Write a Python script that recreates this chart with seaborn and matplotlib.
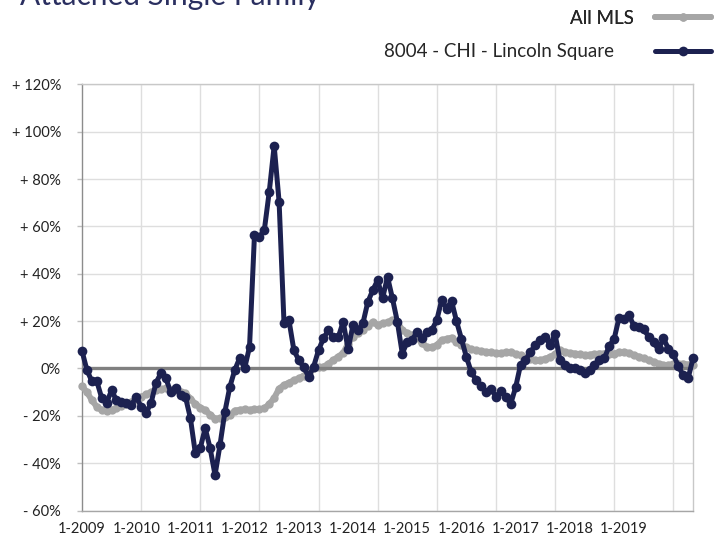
import matplotlib
matplotlib.use("Agg")
import matplotlib.pyplot as plt
import seaborn as sns
import pandas as pd
import numpy as np
from matplotlib.ticker import FixedLocator

# Monthly % change, 1-2009 onwards (one value per month)
lincoln_square = [
    7.4, -0.7, -5.4, -5.4, -12.5, -14.5, -9.2, -13.5, -14, -14.5, -15.5, -12,
    -16.2, -18.7, -14.7, -6.2, -2, -4.1, -9.9, -8.3, -11.3, -12.1, -21, -35.8,
    -33.7, -25.2, -33.7, -45, -32.4, -18.3, -7.8, -0.7, 4.4, 0, 9.1, 56.3,
    55.6, 58.4, 74.6, 94, 70.4, 19, 20.4, 7.7, 3.5, 0.5, -3.5, 0.7,
    7.7, 12.7, 16.2, 13.1, 13.1, 19.7, 8.2, 18.3, 16.2, 19, 28, 33,
    37.3, 29.6, 38.7, 29.6, 19.7, 6.3, 11.2, 12, 15.5, 12.7, 15.5, 16.2,
    20.4, 28.9, 25.3, 28.5, 20, 12.5, 4.9, -1.5, -5, -7.5, -10, -8.5,
    -12, -9.5, -12, -15, -8, 1.5, 3.5, 7, 9.8, 12, 13.4, 9.8,
    14.5, 3.5, 1.5, 0, 0, -0.7, -2.1, -0.7, 1.4, 3.5, 4.2, 9.5,
    12.5, 21.5, 21, 22.5, 18, 17.5, 16.5, 13.4, 11, 8, 12.7, 8.4,
    6, 1, -2.8, -4.2, 4.2,
]
all_mls = [
    -7.5, -10, -13.4, -16.2, -17.6, -17.9, -17.5, -16.8, -16, -15, -14.1, -13,
    -12, -11, -10, -9.2, -8.8, -8.4, -9, -9.2, -9.8, -10.5, -12.7, -15,
    -16.5, -17.6, -19.5, -21.2, -21, -20.4, -19.7, -17.8, -17.5, -17.3, -17.5, -17.3,
    -17.3, -16.9, -15, -12.5, -8.5, -7, -6, -5, -4.2, -3, -2, 0,
    0.5, 0.7, 2, 3.5, 5, 6.5, 10.5, 13.4, 15, 16.2, 18, 19.7,
    18.3, 19, 19.5, 20.4, 19.7, 16.2, 15, 14.1, 13.1, 10.6, 9.1, 9,
    9.8, 12, 12.5, 13, 11.2, 9.8, 9, 8, 7.7, 7.3, 7, 6.8,
    6.5, 6.5, 6.8, 7, 6, 5.6, 4.5, 3.8, 3.5, 3.5, 4, 4.9,
    6, 7.7, 7, 6.5, 6.3, 6, 5.6, 5.8, 6, 6.3, 6.3, 6.3,
    6.3, 6.8, 7, 6.5, 5.6, 5, 4.2, 3.5, 2.8, 2, 1.4, 1.5,
    1.8, 2, 2, 1.6, 1.4,
]
months = list(range(len(lincoln_square)))

x_labels = ["1-2009", "1-2010", "1-2011", "1-2012", "1-2013", "1-2014",
            "1-2015", "1-2016", "1-2017", "1-2018", "1-2019"]
y_ticks = [-60, -40, -20, 0, 20, 40, 60, 80, 100, 120]
y_labels = ["- 60%", "- 40%", "- 20%", "0%", "+ 20%", "+ 40%", "+ 60%",
            "+ 80%", "+ 100%", "+ 120%"]

NAVY = "#1c2150"
GRAY = "#a6a6a6"

sns.set_theme(style="white")
plt.rcParams["font.family"] = ["Lato", "DejaVu Sans"]

df = pd.DataFrame({"month": months, "Lincoln": lincoln_square, "MLS": all_mls})

fig = plt.figure(figsize=(7.16, 5.37), dpi=100)
ax = fig.add_axes([82 / 716, 26.5 / 537, 611 / 716, 426.2 / 537])

sns.lineplot(data=df, x="month", y="MLS", ax=ax, color=GRAY, lw=4.3,
             marker="o", markersize=6, markeredgewidth=0, clip_on=False,
             zorder=3, label="All MLS")
ax.axhline(0, xmin=0.01, xmax=1, color="#808080", lw=2.4, zorder=4)
sns.lineplot(data=df, x="month", y="Lincoln", ax=ax, color=NAVY, lw=3.6,
             marker="o", markersize=7, markeredgewidth=0, clip_on=False,
             zorder=5, label="8004 - CHI - Lincoln Square")

ax.set_xlim(0, len(months) - 1)
ax.set_ylim(-60, 120)

# labels every 11 months, gridlines at each January
ax.xaxis.set_major_locator(FixedLocator(np.arange(len(x_labels)) * 11))
ax.set_xticklabels(x_labels)
ax.xaxis.set_minor_locator(FixedLocator(np.arange(12, len(months), 12)))
ax.set_yticks(y_ticks)
ax.set_yticklabels(y_labels)

ax.grid(False)
ax.grid(which="minor", axis="x", color="#dedede", lw=1)
ax.grid(which="major", axis="y", color="#dedede", lw=1)
ax.set_axisbelow(True)

ax.tick_params(axis="y", which="major", length=3.6, width=1, color="#bfbfbf",
               pad=11.5, labelsize=10.5, labelcolor="#222222", left=True)
ax.tick_params(axis="x", which="both", length=0, pad=8, labelsize=10.5,
               labelcolor="#222222")

ax.spines["left"].set_color("#8c8c8c")
ax.spines["bottom"].set_color("#a6a6a6")
ax.spines["top"].set_color("#c8c8c8")
ax.spines["right"].set_color("#c8c8c8")
for s in ax.spines.values():
    s.set_linewidth(1)

ax.set_xlabel("")
ax.set_ylabel("")

handles, labels = ax.get_legend_handles_labels()
ax.get_legend().remove()
leg1 = fig.legend([handles[0]], [labels[0]], loc="center right",
                  bbox_to_anchor=(711 / 716, 1 - 18 / 537), frameon=False,
                  markerfirst=False, handlelength=3.0, handletextpad=1.1,
                  borderpad=0, borderaxespad=0, fontsize=13.5)
fig.legend([handles[1]], [labels[1]], loc="center right",
           bbox_to_anchor=(711 / 716, 1 - 52 / 537), frameon=False,
           markerfirst=False, handlelength=3.0, handletextpad=2.2,
           borderpad=0, borderaxespad=0, fontsize=13.5)
fig.add_artist(leg1)

fig.text(20 / 716, 1 - 5 / 537, "Attached Single Family", fontsize=21.5,
         color="#2a2f60", ha="left", va="baseline")

fig.savefig("out.png", dpi=100)
